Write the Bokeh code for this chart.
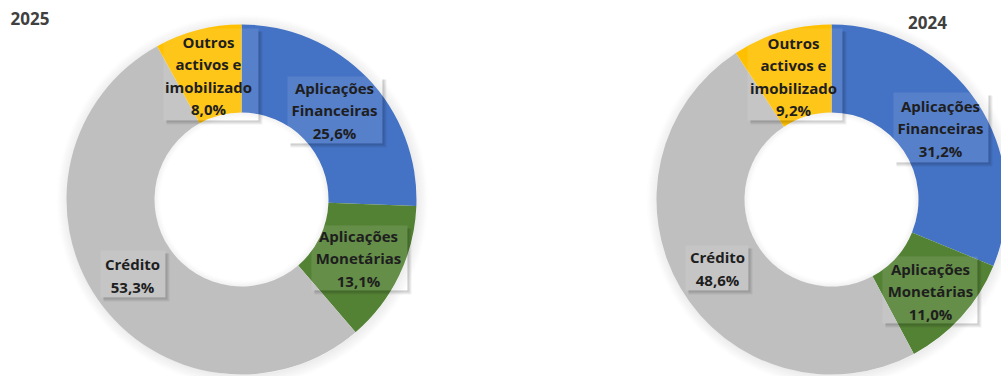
import math
from bokeh.plotting import figure
from bokeh.models import Range1d, ColumnDataSource
from bokeh.core.properties import value
from bokeh.embed import file_html
from bokeh.resources import INLINE

# ---------------- data ----------------
categories = ["Aplicações\nFinanceiras", "Aplicações\nMonetárias", "Crédito", "Outros\nactivos e\nimobilizado"]
values_2025 = [25.6, 13.1, 53.3, 8.0]
values_2024 = [31.2, 11.0, 48.6, 9.2]
years = ["2025", "2024"]
colors = ["#4472C4", "#548235", "#BFBFBF", "#FFC000"]

W, H = 1001, 376
FONT = value("Open Sans")

p = figure(width=W, height=H, output_backend="svg", toolbar_location=None,
           x_range=Range1d(0, W), y_range=Range1d(0, H), min_border=0)
p.axis.visible = False
p.grid.visible = False
p.outline_line_color = None
p.background_fill_color = "white"
p.border_fill_color = "white"

def Y(py):
    return H - py

R_OUT, R_IN = 175, 87
centers = [(241, Y(199)), (831, Y(199))]
title_pos = [(10, Y(18), "left"), (927, Y(22), "center")]
# label block centres (pixel coords) and boxes (x0, x1, ytop, ybottom), per chart, per category
label_pos = [
    [(334, 110), (358, 258), (132, 275), (208, 75)],
    [(940, 128), (930, 291), (717, 268), (793, 76)],
]
label_box = [
    [(287, 382, 76, 143), (311, 407, 225, 290), (100, 165, 250, 297), (163, 258, 28, 120)],
    [(893, 988, 92, 162), (882, 977, 256, 323), (685, 748, 245, 290), (747, 842, 28, 120)],
]

for ci, vals in enumerate([values_2025, values_2024]):
    cx, cy = centers[ci]
    # soft outer shadow
    for i in range(12):
        p.annulus(x=cx + 1, y=cy - 1, inner_radius=R_OUT + i - 1, outer_radius=R_OUT + i,
                  fill_color="black", fill_alpha=0.08 * (1 - i / 12), line_color=None)
    # slices, clockwise from 12 o'clock
    total = sum(vals)
    starts, ends = [], []
    cum = 0.0
    for v in vals:
        a0 = math.pi / 2 - 2 * math.pi * (cum + v) / total
        a1 = math.pi / 2 - 2 * math.pi * cum / total
        starts.append(a0)
        ends.append(a1)
        cum += v
    src = ColumnDataSource(dict(start=starts, end=ends, color=colors))
    p.annular_wedge(x=cx, y=cy, inner_radius=R_IN, outer_radius=R_OUT,
                    start_angle="start", end_angle="end", color="color",
                    line_color=None, source=src)
    # inner shadow in the hole
    for i in range(6):
        p.annulus(x=cx, y=cy, inner_radius=R_IN - i - 1, outer_radius=R_IN - i,
                  fill_color="black", fill_alpha=0.05 * (1 - i / 6), line_color=None)

    # label boxes with shadow
    for k, (x0, x1, yt, yb) in enumerate(label_box[ci]):
        p.quad(left=x0, right=x1, top=Y(yt), bottom=Y(yb), fill_color="white",
               fill_alpha=0.1, line_color=None)
        for s in range(4):
            a = 0.22 * (1 - s / 4)
            p.quad(left=x0 + 3, right=x1 + s + 1, top=Y(yb + s), bottom=Y(yb + s + 1),
                   fill_color="black", fill_alpha=a, line_color=None)
            p.quad(left=x1 + s, right=x1 + s + 1, top=Y(yt + 3), bottom=Y(yb + s),
                   fill_color="black", fill_alpha=a, line_color=None)

    # labels
    texts = [f"{c}\n{v:.1f}%".replace(".", ",") for c, v in zip(categories, vals)]
    lx = [pt[0] for pt in label_pos[ci]]
    ly = [Y(pt[1]) for pt in label_pos[ci]]
    p.text(x=lx, y=ly, text=texts, text_align="center", text_baseline="middle",
           text_font=FONT, text_font_style="bold", text_font_size="15px",
           text_line_height=1.12, text_color="#1e1e1e")

    tx, ty, al = title_pos[ci]
    p.text(x=[tx], y=[ty], text=[years[ci]], text_align=al, text_baseline="middle",
           text_font=FONT, text_font_style="bold", text_font_size="17px",
           text_color="#404040")

open("out.html", "w").write(file_html(p, INLINE))
